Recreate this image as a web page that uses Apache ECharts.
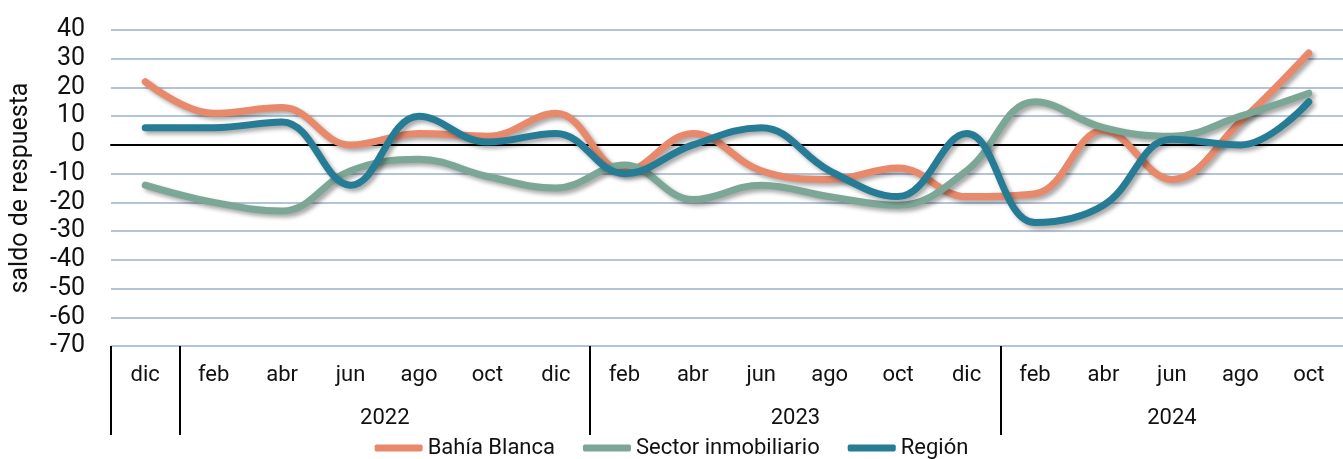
<!DOCTYPE html>
<html>
<head>
<meta charset="utf-8">
<script src="https://cdn.jsdelivr.net/npm/echarts@6/dist/echarts.min.js"></script>
<style>
  html, body { margin: 0; padding: 0; background: #fff; }
  #chart { width: 1343px; height: 459px; }
</style>
</head>
<body>
<div id="chart"></div>
<script>
const months = ["dic", "feb", "abr", "jun", "ago", "oct", "dic", "feb", "abr", "jun", "ago", "oct", "dic", "feb", "abr", "jun", "ago", "oct"];
const years = ["", "2022", "2022", "2022", "2022", "2022", "2022", "2023", "2023", "2023", "2023", "2023", "2023", "2024", "2024", "2024", "2024", "2024"];
const bahiaBlanca = [22, 11, 13, 0, 4, 3, 11, -9, 4, -9, -12, -8, -18, -17, 5, -12, 8, 32];
const sectorInmobiliario = [-14, -20, -23, -9, -5, -11, -15, -7, -19, -14, -18, -21, -9, 15, 6, 3, 10, 18];
const region = [6, 6, 8, -14, 10, 1, 4, -10, 0, 6, -9, -18, 4, -27, -21, 2, 0, 15];

// year groups -> separators and label centers
const groupEdges = [-0.5];
const groupCenters = [];
const groupNames = {};
let start = 0;
for (let i = 1; i <= years.length; i++) {
  if (i === years.length || years[i] !== years[start]) {
    if (i < years.length) groupEdges.push(i - 0.5);
    if (years[start]) {
      const c = (start + i - 1) / 2;
      groupCenters.push(c);
      groupNames[c] = years[start];
    }
    start = i;
  }
}

const font = "Roboto";
const chart = echarts.init(document.getElementById("chart"));

function lineSeries(name, data, color) {
  return {
    name: name,
    type: "line",
    data: data,
    smooth: 0.4,
    symbol: "none",
    color: color,
    lineStyle: {
      width: 7,
      color: color,
      cap: "round",
      join: "round",
      shadowColor: "rgba(0,0,0,0.35)",
      shadowBlur: 4,
      shadowOffsetX: 3,
      shadowOffsetY: 3,
    },
  };
}

const option = {
  animation: false,
  backgroundColor: "#fff",
  grid: { left: 107, right: -5, top: 30, bottom: 113 },
  legend: {
    bottom: -5,
    left: "center",
    itemWidth: 48,
    itemHeight: 7,
    itemGap: 28,
    icon: "roundRect",
    textStyle: { fontFamily: font, fontSize: 22, color: "#111" },
    data: ["Bahía Blanca", "Sector inmobiliario", "Región"],
  },
  xAxis: [
    {
      type: "category",
      position: "bottom",
      data: months,
      axisLine: { show: false, onZero: false },
      axisTick: { show: false },
      axisLabel: { margin: 18, fontFamily: font, fontSize: 22, color: "#111" },
    },
    {
      type: "value",
      position: "bottom",
      min: -0.5,
      max: 17.5,
      axisLine: { show: false, onZero: false },
      splitLine: { show: false },
      axisTick: {
        show: true,
        customValues: groupEdges,
        length: 89,
        lineStyle: { color: "#000", width: 2 },
      },
      axisLabel: {
        customValues: groupCenters,
        margin: 61,
        fontFamily: font,
        fontSize: 22,
        color: "#111",
        formatter: (v) => groupNames[v] || "",
      },
    },
    {
      type: "category",
      position: "bottom",
      data: months,
      axisLine: { show: true, onZero: true, lineStyle: { color: "#000", width: 2 } },
      axisTick: { show: false },
      axisLabel: { show: false },
    },
  ],
  yAxis: {
    type: "value",
    min: -70,
    max: 40,
    interval: 10,
    name: "saldo de respuesta",
    nameLocation: "middle",
    nameRotate: 90,
    nameGap: 78,
    nameTextStyle: { fontFamily: font, fontSize: 25, color: "#111" },
    axisLine: { show: false },
    axisTick: { show: false },
    axisLabel: { margin: 26, fontFamily: font, fontSize: 25, color: "#111" },
    splitLine: { lineStyle: { color: "#B5C3D6", width: 2 } },
  },
  series: [
    lineSeries("Bahía Blanca", bahiaBlanca, "#E8896B"),
    lineSeries("Sector inmobiliario", sectorInmobiliario, "#7CA796"),
    lineSeries("Región", region, "#267B95"),
  ],
};

chart.setOption(option);
</script>
</body>
</html>
